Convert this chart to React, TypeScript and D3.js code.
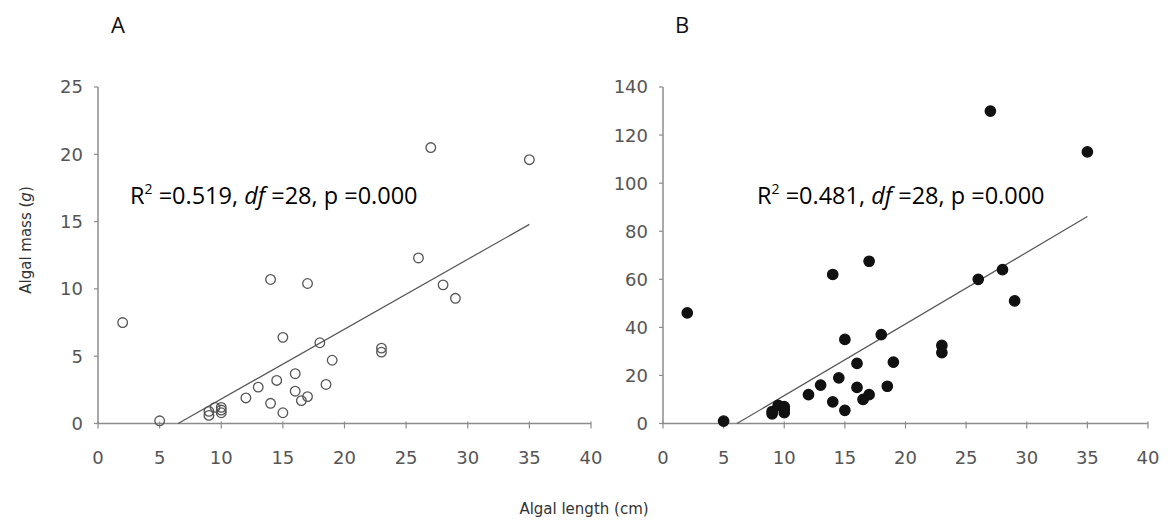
import React from 'react';
import * as d3 from 'd3';

// Data: algal length (cm) shared by both panels
const lengths = [2, 5, 9, 9, 9.5, 10, 10, 10, 12, 13, 14, 14, 14.5, 15, 15, 16, 16, 16.5, 17, 17, 18, 18.5, 19, 23, 23, 26, 27, 28, 29, 35];
// Panel A: algal mass (g)
const massA = [7.5, 0.2, 0.6, 0.9, 1.2, 1.2, 0.8, 1.0, 1.9, 2.7, 1.5, 10.7, 3.2, 0.8, 6.4, 3.7, 2.4, 1.7, 2.0, 10.4, 6.0, 2.9, 4.7, 5.6, 5.3, 12.3, 20.5, 10.3, 9.3, 19.6];
// Panel B
const massB = [46, 1, 4, 5, 7.5, 7, 4.5, 6, 12, 16, 9, 62, 19, 5.5, 35, 25, 15, 10, 12, 67.5, 37, 15.5, 25.5, 32.5, 29.5, 60, 130, 64, 51, 113];

const xTicks = [0, 5, 10, 15, 20, 25, 30, 35, 40];
const yTicksA = [0, 5, 10, 15, 20, 25];
const yTicksB = [0, 20, 40, 60, 80, 100, 120, 140];

const fitA = { slope: 0.519, intercept: -3.37, from: 6.5, to: 35 };
const fitB = { slope: 2.98, intercept: -18.2, from: 6.1, to: 35 };

const statA = { r2: '0.519', df: '28', p: '0.000' };
const statB = { r2: '0.481', df: '28', p: '0.000' };

const W = 1168;
const H = 522;
const TOP = 87;
const BOTTOM = 423.5;
const AXIS_COLOR = '#8c8c8c';
const TICK_FONT = 'DejaVu Sans, Verdana, sans-serif';
const TEXT_FONT = 'Open Sans, Liberation Sans, sans-serif';

type Fit = { slope: number; intercept: number; from: number; to: number };
type Stat = { r2: string; df: string; p: string };

function Panel(props: {
  x0: number; x1: number; yMax: number; yTicks: number[]; ys: number[];
  filled: boolean; fit: Fit; label: string; labelX: number; stat: Stat; statX: number;
}) {
  const { x0, x1, yMax, yTicks, ys, filled, fit, label, labelX, stat, statX } = props;
  const x = d3.scaleLinear().domain([0, 40]).range([x0, x1]);
  const y = d3.scaleLinear().domain([0, yMax]).range([BOTTOM, TOP]);
  const line = d3.line<number>().x(d => x(d)).y(d => y(fit.slope * d + fit.intercept));
  return (
    <g>
      <text x={labelX} y={33} fontFamily={TEXT_FONT} fontSize={22} fill="#111">{label}</text>
      {/* axes */}
      <line x1={x(0)} x2={x(0)} y1={y(yMax)} y2={y(0)} stroke={AXIS_COLOR} strokeWidth={1.5} />
      <line x1={x(0)} x2={x(40)} y1={y(0)} y2={y(0)} stroke={AXIS_COLOR} strokeWidth={1.5} />
      {yTicks.map(t => (
        <g key={'y' + t}>
          <line x1={x(0) - 4} x2={x(0)} y1={y(t)} y2={y(t)} stroke={AXIS_COLOR} strokeWidth={1.2} />
          <text x={x(0) - 15} y={y(t)} dy="0.36em" textAnchor="end" fontFamily={TICK_FONT} fontSize={18} fill="#555">{t}</text>
        </g>
      ))}
      {xTicks.map(t => (
        <g key={'x' + t}>
          <line x1={x(t)} x2={x(t)} y1={y(0) - 2} y2={y(0) + 5} stroke={AXIS_COLOR} strokeWidth={1.2} />
          <text x={x(t)} y={y(0) + 40} textAnchor="middle" fontFamily={TICK_FONT} fontSize={18} fill="#555">{t}</text>
        </g>
      ))}
      <path d={line([fit.from, fit.to]) || ''} stroke="#555" strokeWidth={1.2} fill="none" />
      {lengths.map((l, i) => (
        <circle key={i} cx={x(l)} cy={y(ys[i])} r={filled ? 5.2 : 4.8}
          fill={filled ? '#111' : 'none'} stroke={filled ? '#111' : '#555'} strokeWidth={1.3} />
      ))}
      <text x={statX} y={204} fontFamily={TEXT_FONT} fontSize={23.5} fill="#000" style={{ whiteSpace: 'pre' }}>
        R<tspan dy={-10} fontSize={14}>2</tspan>
        <tspan dy={10}>{' =' + stat.r2 + ', '}</tspan>
        <tspan fontStyle="italic">df</tspan>
        <tspan>{' =' + stat.df + ', p =' + stat.p}</tspan>
      </text>
    </g>
  );
}

export default function App() {
  return (
    <svg width={W} height={H} style={{ position: 'absolute', left: 0, top: 0, background: '#fff' }}>
      <rect width={W} height={H} fill="#fff" />
      <Panel x0={98} x1={591} yMax={25} yTicks={yTicksA} ys={massA} filled={false} fit={fitA}
        label="A" labelX={111} stat={statA} statX={130} />
      <Panel x0={663} x1={1148} yMax={140} yTicks={yTicksB} ys={massB} filled={true} fit={fitB}
        label="B" labelX={675} stat={statB} statX={757} />
      <text transform={`translate(26,240) rotate(-90)`} textAnchor="middle" dy="0.35em"
        fontFamily={TICK_FONT} fontSize={15} fill="#333">
        Algal mass (<tspan fontStyle="italic">g</tspan>)
      </text>
      <text x={584} y={514} textAnchor="middle" fontFamily={TICK_FONT} fontSize={15} fill="#333">
        Algal length (cm)
      </text>
    </svg>
  );
}
